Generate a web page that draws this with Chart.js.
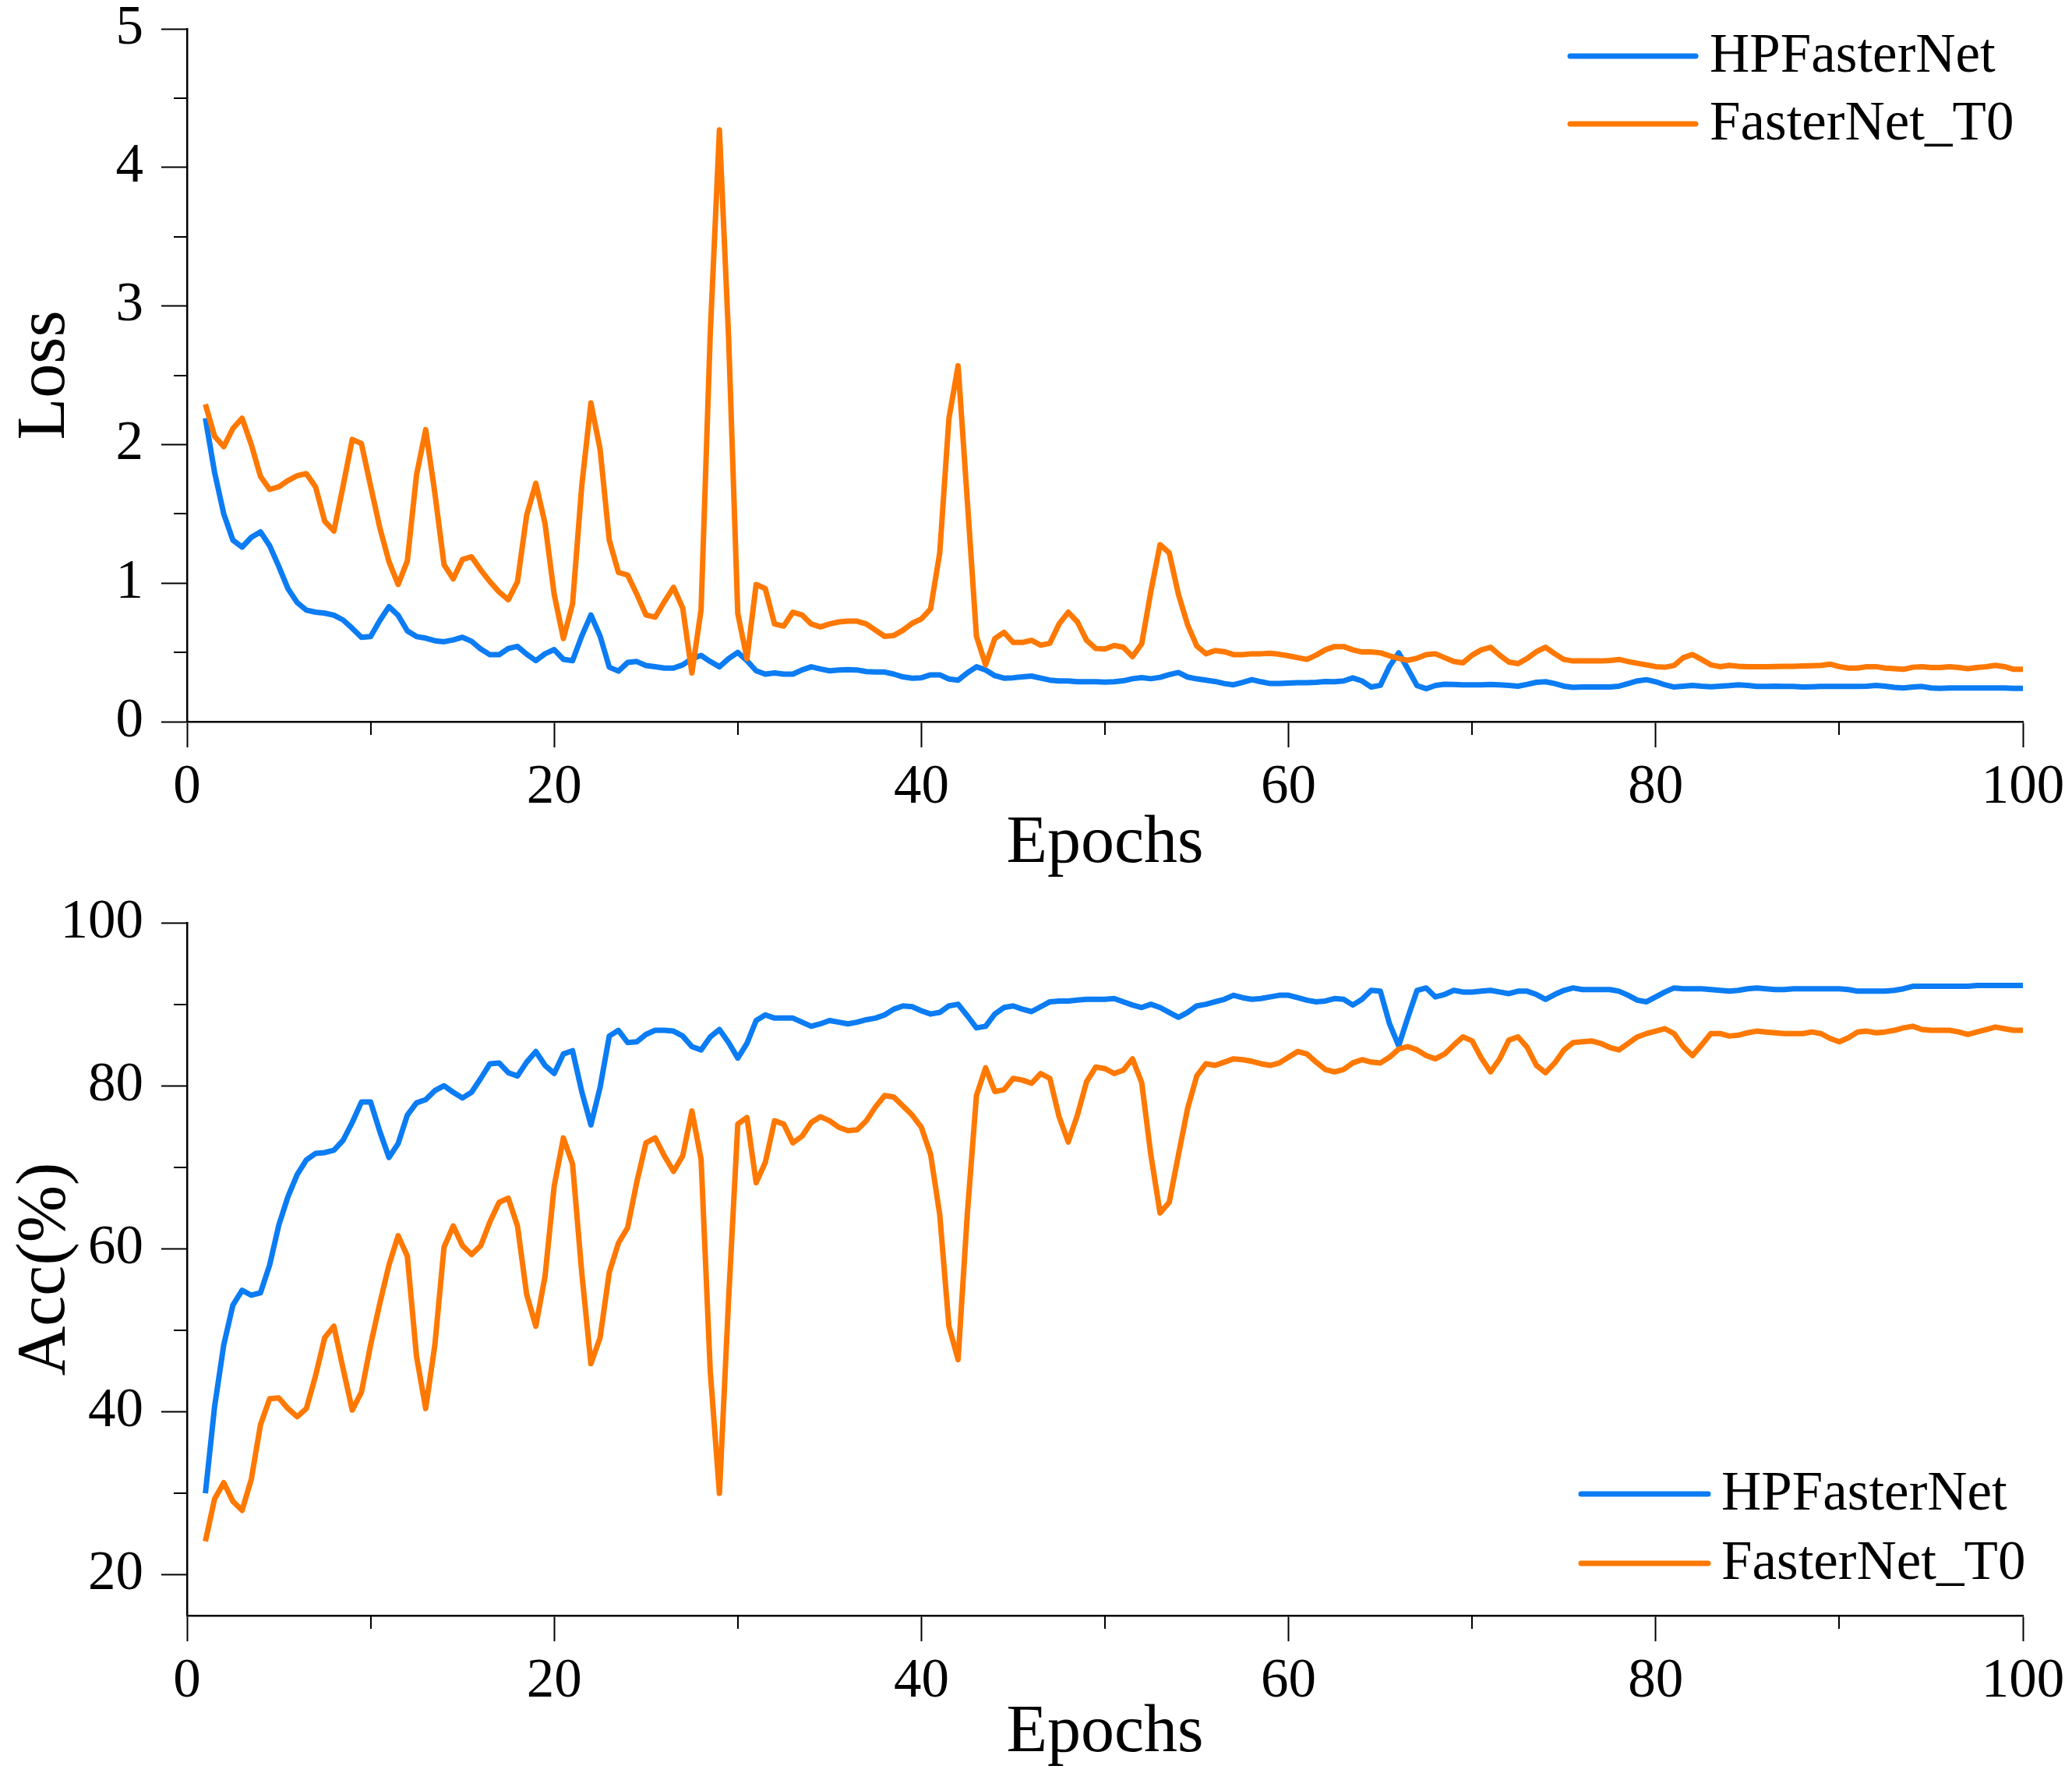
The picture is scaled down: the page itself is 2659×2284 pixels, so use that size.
<!DOCTYPE html>
<html>
<head>
<meta charset="utf-8">
<script src="https://cdn.jsdelivr.net/npm/chart.js@4.4.1/dist/chart.umd.min.js"></script>
<style>
html,body{margin:0;padding:0;background:#fff;}
#wrap{position:relative;width:2659px;height:2284px;background:#fff;overflow:hidden;}
canvas{position:absolute;left:0;}
#c1{top:0;}
#c2{top:1142px;}
</style>
</head>
<body>
<div id="wrap">
<canvas id="c1" width="2659" height="1142"></canvas>
<canvas id="c2" width="2659" height="1142"></canvas>
</div>
<script>
// ---------- data ----------
const seriesNames = ['HPFasterNet', 'FasterNet_T0'];

const epochs = [
  1,1.5,2,2.5,3,3.5,4,4.5,5,5.5,
  6,6.5,7,7.5,8,8.5,9,9.5,10,10.5,
  11,11.5,12,12.5,13,13.5,14,14.5,15,15.5,
  16,16.5,17,17.5,18,18.5,19,19.5,20,20.5,
  21,21.5,22,22.5,23,23.5,24,24.5,25,25.5,
  26,26.5,27,27.5,28,28.5,29,29.5,30,30.5,
  31,31.5,32,32.5,33,33.5,34,34.5,35,35.5,
  36,36.5,37,37.5,38,38.5,39,39.5,40,40.5,
  41,41.5,42,42.5,43,43.5,44,44.5,45,45.5,
  46,46.5,47,47.5,48,48.5,49,49.5,50,50.5,
  51,51.5,52,52.5,53,53.5,54,54.5,55,55.5,
  56,56.5,57,57.5,58,58.5,59,59.5,60,60.5,
  61,61.5,62,62.5,63,63.5,64,64.5,65,65.5,
  66,66.5,67,67.5,68,68.5,69,69.5,70,70.5,
  71,71.5,72,72.5,73,73.5,74,74.5,75,75.5,
  76,76.5,77,77.5,78,78.5,79,79.5,80,80.5,
  81,81.5,82,82.5,83,83.5,84,84.5,85,85.5,
  86,86.5,87,87.5,88,88.5,89,89.5,90,90.5,
  91,91.5,92,92.5,93,93.5,94,94.5,95,95.5,
  96,96.5,97,97.5,98,98.5,99,99.5,100
];

const lossHP = [
  2.19,1.80,1.50,1.31,1.26,1.33,1.37,1.27,1.12,0.96,
  0.86,0.805,0.79,0.783,0.768,0.734,0.674,0.609,0.614,0.73,
  0.83,0.768,0.655,0.614,0.603,0.584,0.577,0.59,0.609,0.58,
  0.524,0.483,0.483,0.528,0.543,0.487,0.44,0.49,0.52,0.45,
  0.44,0.618,0.77,0.618,0.393,0.365,0.427,0.434,0.405,0.396,
  0.387,0.387,0.41,0.455,0.478,0.434,0.396,0.455,0.5,0.44,
  0.367,0.343,0.352,0.343,0.343,0.373,0.396,0.38,0.367,0.373,
  0.376,0.373,0.361,0.358,0.358,0.343,0.323,0.314,0.317,0.338,
  0.338,0.308,0.30,0.352,0.396,0.373,0.332,0.314,0.317,0.323,
  0.329,0.314,0.30,0.294,0.294,0.288,0.288,0.288,0.286,0.288,
  0.295,0.31,0.318,0.31,0.32,0.34,0.355,0.322,0.309,0.30,
  0.29,0.275,0.266,0.284,0.303,0.288,0.275,0.275,0.279,0.281,
  0.281,0.284,0.29,0.288,0.294,0.316,0.294,0.25,0.262,0.40,
  0.496,0.38,0.26,0.238,0.262,0.27,0.268,0.266,0.266,0.266,
  0.269,0.266,0.262,0.256,0.269,0.284,0.288,0.275,0.256,0.247,
  0.25,0.25,0.25,0.25,0.256,0.275,0.294,0.303,0.288,0.266,
  0.25,0.256,0.262,0.256,0.252,0.256,0.26,0.266,0.262,0.254,
  0.254,0.256,0.254,0.254,0.25,0.252,0.254,0.254,0.254,0.254,
  0.254,0.256,0.262,0.256,0.247,0.243,0.25,0.254,0.243,0.241,
  0.243,0.243,0.243,0.243,0.243,0.243,0.243,0.241,0.241
];

const lossT0 = [
  2.29,2.06,1.985,2.116,2.19,2.0,1.77,1.676,1.695,1.74,
  1.775,1.79,1.695,1.446,1.376,1.70,2.037,2.007,1.70,1.40,
  1.155,0.99,1.16,1.78,2.107,1.65,1.133,1.03,1.17,1.19,
  1.095,1.01,0.936,0.88,1.01,1.49,1.72,1.43,0.918,0.60,
  0.85,1.7,2.30,1.966,1.31,1.077,1.058,0.92,0.77,0.754,
  0.866,0.969,0.82,0.352,0.807,2.8,4.27,2.77,0.78,0.455,
  0.99,0.96,0.705,0.69,0.79,0.77,0.705,0.684,0.705,0.72,
  0.725,0.725,0.705,0.66,0.616,0.622,0.66,0.71,0.742,0.813,
  1.218,2.187,2.568,1.6,0.616,0.41,0.60,0.645,0.572,0.572,
  0.587,0.552,0.566,0.705,0.79,0.72,0.587,0.528,0.525,0.55,
  0.537,0.47,0.562,0.94,1.277,1.218,0.92,0.70,0.546,0.49,
  0.513,0.505,0.484,0.484,0.49,0.49,0.494,0.486,0.475,0.462,
  0.449,0.48,0.518,0.542,0.542,0.518,0.503,0.503,0.497,0.475,
  0.456,0.443,0.458,0.484,0.49,0.462,0.434,0.425,0.48,0.518,
  0.537,0.48,0.43,0.419,0.456,0.505,0.537,0.49,0.449,0.438,
  0.438,0.438,0.438,0.441,0.449,0.434,0.421,0.41,0.397,0.393,
  0.406,0.462,0.484,0.449,0.41,0.397,0.406,0.40,0.397,0.397,
  0.397,0.398,0.40,0.40,0.402,0.404,0.406,0.415,0.397,0.387,
  0.387,0.397,0.397,0.387,0.382,0.378,0.393,0.397,0.391,0.391,
  0.397,0.391,0.382,0.391,0.397,0.406,0.397,0.378,0.378
];

const accHP = [
  30.0,40.6,48.2,53.1,54.9,54.3,54.6,58.0,62.9,66.4,
  69.1,70.9,71.7,71.8,72.1,73.3,75.5,78.0,78.0,74.4,
  71.2,72.9,76.4,77.9,78.3,79.4,80.0,79.2,78.5,79.2,
  80.9,82.7,82.8,81.6,81.2,82.9,84.2,82.5,81.5,83.9,
  84.3,79.3,75.2,79.8,86.1,86.8,85.3,85.4,86.3,86.8,
  86.8,86.7,86.1,84.8,84.4,86.0,86.9,85.3,83.4,85.2,
  88.0,88.7,88.3,88.3,88.3,87.8,87.3,87.6,88.0,87.8,
  87.6,87.8,88.1,88.3,88.7,89.4,89.8,89.7,89.2,88.8,
  89.0,89.8,90.0,88.6,87.1,87.3,88.8,89.6,89.8,89.4,
  89.1,89.7,90.3,90.4,90.4,90.5,90.6,90.6,90.6,90.7,
  90.3,89.9,89.6,90.0,89.6,89.0,88.4,89.0,89.8,90.0,
  90.3,90.6,91.1,90.8,90.6,90.7,90.9,91.1,91.1,90.8,
  90.5,90.3,90.4,90.7,90.6,89.9,90.6,91.7,91.6,87.6,
  84.9,88.4,91.7,92.0,90.9,91.2,91.7,91.5,91.5,91.6,
  91.7,91.5,91.3,91.6,91.6,91.2,90.6,91.2,91.7,92.0,
  91.8,91.8,91.8,91.8,91.6,91.1,90.5,90.3,90.9,91.5,
  92.0,91.9,91.9,91.9,91.8,91.7,91.6,91.7,91.9,92.0,
  91.9,91.8,91.8,91.9,91.9,91.9,91.9,91.9,91.9,91.8,
  91.6,91.6,91.6,91.6,91.7,91.9,92.2,92.2,92.2,92.2,
  92.2,92.2,92.2,92.3,92.3,92.3,92.3,92.3,92.3
];

const accT0 = [
  24.1,29.3,31.3,29.0,27.9,31.7,38.4,41.6,41.7,40.4,
  39.4,40.4,44.4,49.1,50.5,45.3,40.2,42.4,48.2,53.3,
  58.0,61.6,59.1,46.8,40.4,48.2,60.2,62.8,60.4,59.3,
  60.4,63.3,65.7,66.2,62.8,54.4,50.5,56.6,67.7,73.6,
  70.4,57.1,45.9,49.1,57.1,60.7,62.6,68.2,73.0,73.6,
  71.4,69.5,71.4,76.9,71.0,45.0,30.0,53.8,75.3,76.1,
  68.1,70.6,75.7,75.3,73.0,73.8,75.5,76.2,75.7,74.9,
  74.5,74.6,75.7,77.4,78.8,78.6,77.5,76.4,74.9,71.6,
  64.2,50.5,46.4,64.2,78.8,82.2,79.3,79.5,80.9,80.7,
  80.3,81.5,80.9,76.2,73.1,76.4,80.5,82.3,82.1,81.5,
  81.9,83.3,80.4,71.5,64.4,65.7,71.5,77.2,81.2,82.7,
  82.5,82.9,83.3,83.2,83.0,82.7,82.5,82.8,83.5,84.2,
  83.9,82.9,82.0,81.7,82.0,82.8,83.2,82.9,82.8,83.5,
  84.5,84.8,84.4,83.7,83.3,83.9,85.0,86.0,85.5,83.4,
  81.7,83.3,85.6,86.0,84.7,82.5,81.6,82.8,84.4,85.3,
  85.4,85.5,85.2,84.7,84.4,85.2,86.0,86.4,86.7,87.0,
  86.4,84.8,83.7,85.0,86.4,86.4,86.1,86.2,86.5,86.7,
  86.6,86.5,86.4,86.4,86.4,86.6,86.4,85.8,85.4,85.9,
  86.6,86.7,86.5,86.6,86.8,87.1,87.3,86.9,86.8,86.8,
  86.8,86.6,86.3,86.6,86.9,87.2,87.0,86.8,86.8
];

// tick labels
const xTicks = [0, 20, 40, 60, 80, 100];
const xMinorTicks = [10, 30, 50, 70, 90];
const lossTicks = [0, 1, 2, 3, 4, 5];
const lossMinorTicks = [0.5, 1.5, 2.5, 3.5, 4.5];
const accTicks = [20, 40, 60, 80, 100];
const accMinorTicks = [30, 50, 70, 90];

// ---------- styling ----------
const FONT = "'Liberation Serif', 'Times New Roman', Times, serif";
const BLUE = '#0b7cf3';
const ORANGE = '#ff7800';

const minorTicksPlugin = {
  id: 'minorTicks',
  afterDraw(chart, args, o) {
    const ctx = chart.ctx, xs = chart.scales.x, ys = chart.scales.y;
    ctx.save();
    ctx.strokeStyle = '#000';
    ctx.lineWidth = 2;
    ctx.beginPath();
    o.x.forEach(v => {
      const px = Math.round(xs.getPixelForValue(v));
      ctx.moveTo(px, xs.top);
      ctx.lineTo(px, xs.top + o.len);
    });
    o.y.forEach(v => {
      const py = Math.round(ys.getPixelForValue(v));
      ctx.moveTo(ys.right, py);
      ctx.lineTo(ys.right - o.len, py);
    });
    ctx.stroke();
    ctx.restore();
  }
};

const lineLegendPlugin = {
  id: 'lineLegend',
  afterDraw(chart, args, o) {
    const ctx = chart.ctx, a = chart.chartArea;
    ctx.save();
    ctx.font = o.size + 'px ' + FONT;
    ctx.textBaseline = 'middle';
    ctx.textAlign = 'left';
    ctx.fillStyle = '#000';
    chart.data.datasets.forEach((ds, i) => {
      const yy = a.top + o.top + i * o.gap;
      const x1 = a.right - o.right;
      const x2 = x1 + o.len;
      ctx.strokeStyle = ds.borderColor;
      ctx.lineWidth = ds.borderWidth;
      ctx.lineCap = 'round';
      ctx.beginPath();
      ctx.moveTo(x1, yy);
      ctx.lineTo(x2, yy);
      ctx.stroke();
      ctx.fillText(ds.label, x2 + o.textGap, yy + 1);
    });
    ctx.restore();
  }
};

function build(canvas, cfg) {
  const mk = (vals) => epochs.map((e, i) => ({ x: e, y: vals[i] }));
  return new Chart(canvas, {
    type: 'line',
    data: {
      datasets: [
        { label: seriesNames[0], data: mk(cfg.hp), borderColor: BLUE, backgroundColor: BLUE,
          borderWidth: 7, pointRadius: 0, tension: 0, order: 1, borderJoinStyle: 'round', fill: false },
        { label: seriesNames[1], data: mk(cfg.t0), borderColor: ORANGE, backgroundColor: ORANGE,
          borderWidth: 7, pointRadius: 0, tension: 0, order: 0, borderJoinStyle: 'round', fill: false }
      ]
    },
    options: {
      responsive: false,
      animation: false,
      devicePixelRatio: 1,
      layout: { padding: { top: cfg.padTop, right: 63, left: 0, bottom: 0 } },
      plugins: {
        legend: { display: false },
        tooltip: { enabled: false },
        minorTicks: { x: xMinorTicks, y: cfg.yMinor, len: 17 },
        lineLegend: cfg.legend
      },
      scales: {
        x: {
          type: 'linear', min: 0, max: 100,
          afterBuildTicks: s => { s.ticks = xTicks.map(v => ({ value: v })); },
          afterFit: s => { s.height = cfg.xH; s.paddingLeft = 0; s.paddingRight = 0; },
          border: { display: true, color: '#000', width: 2.5 },
          grid: { display: true, drawOnChartArea: false, drawTicks: true, tickLength: 33, tickWidth: 2, tickColor: '#000' },
          ticks: { color: '#000', font: { family: FONT, size: 71, lineHeight: 1 }, padding: 17, maxRotation: 0, autoSkip: false },
          title: { display: true, text: 'Epochs', color: '#000', font: { family: FONT, size: 86, lineHeight: 1.2 },
                   padding: { top: 0, bottom: cfg.titlePad } }
        },
        y: {
          type: 'linear', min: cfg.yMin, max: cfg.yMax,
          afterBuildTicks: s => { s.ticks = cfg.yTicks.map(v => ({ value: v })); },
          afterFit: s => { s.width = 240; s.paddingTop = 0; s.paddingBottom = 0; },
          border: { display: true, color: '#000', width: 2.5 },
          grid: { display: true, drawOnChartArea: false, drawTicks: true, tickLength: 33, tickWidth: 2, tickColor: '#000' },
          ticks: { color: '#000', font: { family: FONT, size: 71, lineHeight: 1 }, padding: 23, autoSkip: false },
          title: { display: true, text: cfg.yTitle, color: '#000', font: { family: FONT, size: 88, lineHeight: 1.2 },
                   padding: { top: 6, bottom: 0 } }
        }
      }
    },
    plugins: [minorTicksPlugin, lineLegendPlugin]
  });
}

build(document.getElementById('c1'), {
  hp: lossHP, t0: lossT0,
  yMin: 0, yMax: 5, yTicks: lossTicks, yMinor: lossMinorTicks, yTitle: 'Loss',
  padTop: 37, xH: 216, titlePad: 7,
  legend: { size: 71, top: 35, gap: 87, right: 581, len: 161, textGap: 18 }
});

build(document.getElementById('c2'), {
  hp: accHP, t0: accT0,
  yMin: 15, yMax: 100, yTicks: accTicks, yMinor: accMinorTicks, yTitle: 'Acc(%)',
  padTop: 42, xH: 211, titlePad: 8,
  legend: { size: 71, top: 733, gap: 89, right: 567, len: 163, textGap: 17 }
});
</script>
</body>
</html>
